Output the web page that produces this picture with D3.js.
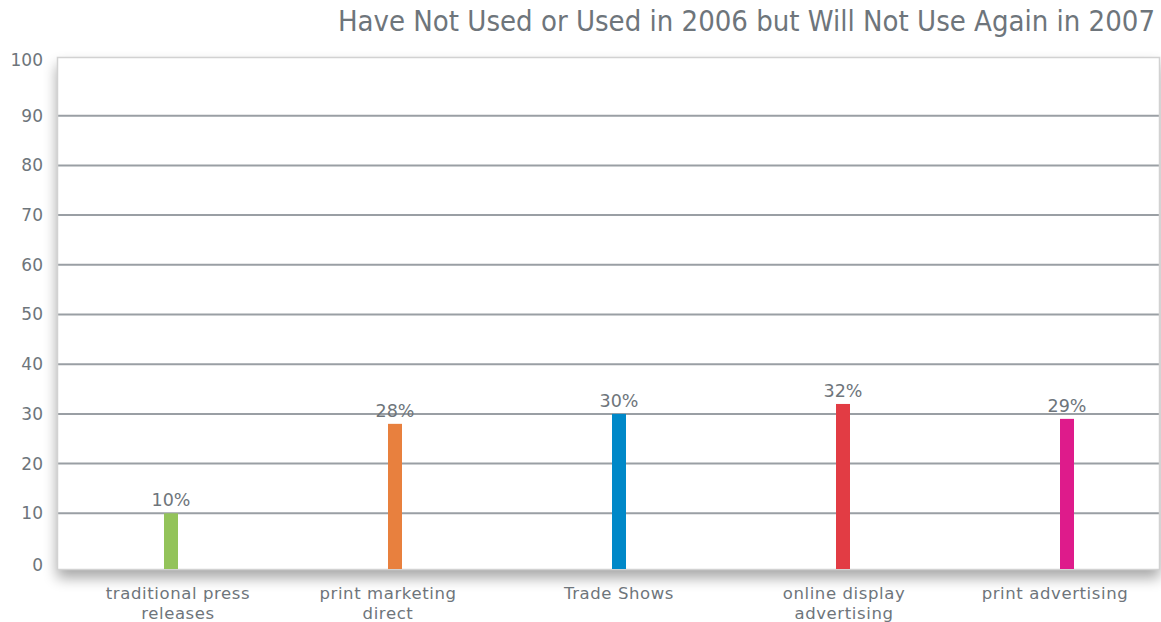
<!DOCTYPE html>
<html>
<head>
<meta charset="utf-8">
<script src="https://cdn.jsdelivr.net/npm/d3@7"></script>
<style>
  html, body { margin: 0; padding: 0; background: #fff; }
  svg { display: block; font-family: "DejaVu Sans", Verdana, sans-serif; }
</style>
</head>
<body>
<svg id="chart" width="1161" height="622"></svg>
<script>
// Data
const categories = [
  ["traditional press", "releases"],
  ["print marketing", "direct"],
  ["Trade Shows"],
  ["online display", "advertising"],
  ["print advertising"]
];
const values = [10, 28, 30, 32, 29];
const valueLabels = ["10%", "28%", "30%", "32%", "29%"];
const barColors = ["#93c35a", "#e8803e", "#0088c8", "#e23c44", "#de1b8b"];
const yTicks = [0, 10, 20, 30, 40, 50, 60, 70, 80, 90, 100];
const title = "Have Not Used or Used in 2006 but Will Not Use Again in 2007";

const svg = d3.select("#chart");
const textColor = "#6e757b";

// Plot frame
const box = { left: 57, right: 1160, top: 57, bottom: 570 };

const y = d3.scaleLinear().domain([0, 100]).range([563, 66]);
const x = d3.scalePoint()
  .domain(d3.range(categories.length))
  .range([171, 1067]);

const defs = svg.append("defs");
const shadow = defs.append("filter").attr("id", "shadow")
  .attr("x", "-5%").attr("y", "-5%").attr("width", "110%").attr("height", "115%");
shadow.append("feGaussianBlur").attr("in", "SourceAlpha").attr("stdDeviation", 7);
shadow.append("feOffset").attr("dx", 0).attr("dy", 8).attr("result", "b");
shadow.append("feComponentTransfer").append("feFuncA").attr("type", "linear").attr("slope", 0.35);
const merge = shadow.append("feMerge");
merge.append("feMergeNode");
merge.append("feMergeNode").attr("in", "SourceGraphic");

// Frame background with soft shadow
svg.append("rect")
  .attr("x", box.left).attr("y", box.top)
  .attr("width", box.right - box.left).attr("height", box.bottom - box.top)
  .attr("fill", "#fff")
  .attr("filter", "url(#shadow)");

// Gridlines (inner ticks only)
svg.append("g").selectAll("line")
  .data(yTicks.filter(t => t > 0 && t < 100))
  .join("line")
  .attr("x1", box.left).attr("x2", box.right)
  .attr("y1", d => y(d)).attr("y2", d => y(d))
  .attr("stroke", "#9a9fa4").attr("stroke-width", 2);

// Frame border
svg.append("rect")
  .attr("x", box.left + 0.5).attr("y", box.top + 0.5)
  .attr("width", box.right - box.left - 1).attr("height", box.bottom - box.top - 1)
  .attr("fill", "none").attr("stroke", "#d2d2d2").attr("stroke-width", 1.5);

// Y-axis labels (end labels sit a little inside the frame edges)
const labelY = d => d === 100 ? y(d) - 6 : d === 0 ? y(d) + 2 : y(d);
svg.append("g").selectAll("text")
  .data(yTicks)
  .join("text")
  .attr("x", 43)
  .attr("y", labelY)
  .attr("dy", "0.35em")
  .attr("text-anchor", "end")
  .attr("font-size", 17)
  .attr("fill", textColor)
  .text(d => d);

// Bars
const barW = 14;
svg.append("g").selectAll("rect")
  .data(values)
  .join("rect")
  .attr("x", (d, i) => x(i) - barW / 2)
  .attr("y", d => y(d))
  .attr("width", barW)
  .attr("height", d => box.bottom - 1 - y(d))
  .attr("fill", (d, i) => barColors[i]);

// Value labels
svg.append("g").selectAll("text")
  .data(values)
  .join("text")
  .attr("x", (d, i) => x(i))
  .attr("y", d => y(d) - 7)
  .attr("text-anchor", "middle")
  .attr("font-size", 17.5)
  .attr("fill", textColor)
  .text((d, i) => valueLabels[i]);

// Category labels
const catOffsets = [7, -7, 0, 1, -12];
const cat = svg.append("g").selectAll("text")
  .data(categories)
  .join("text")
  .attr("x", (d, i) => x(i) + catOffsets[i])
  .attr("y", 599)
  .attr("text-anchor", "middle")
  .attr("font-size", 16.5)
  .attr("letter-spacing", 0.6)
  .attr("fill", textColor);
cat.selectAll("tspan")
  .data(d => d)
  .join("tspan")
  .attr("x", function () { return d3.select(this.parentNode).attr("x"); })
  .attr("dy", (d, j) => j === 0 ? 0 : 20)
  .text(d => d);

// Title
svg.append("text")
  .attr("x", 1155)
  .attr("y", 31)
  .attr("text-anchor", "end")
  .attr("font-size", 29)
  .attr("font-family", "'DejaVu Sans Condensed', 'DejaVu Sans', sans-serif")
  .attr("fill", textColor)
  .text(title);
</script>
</body>
</html>
